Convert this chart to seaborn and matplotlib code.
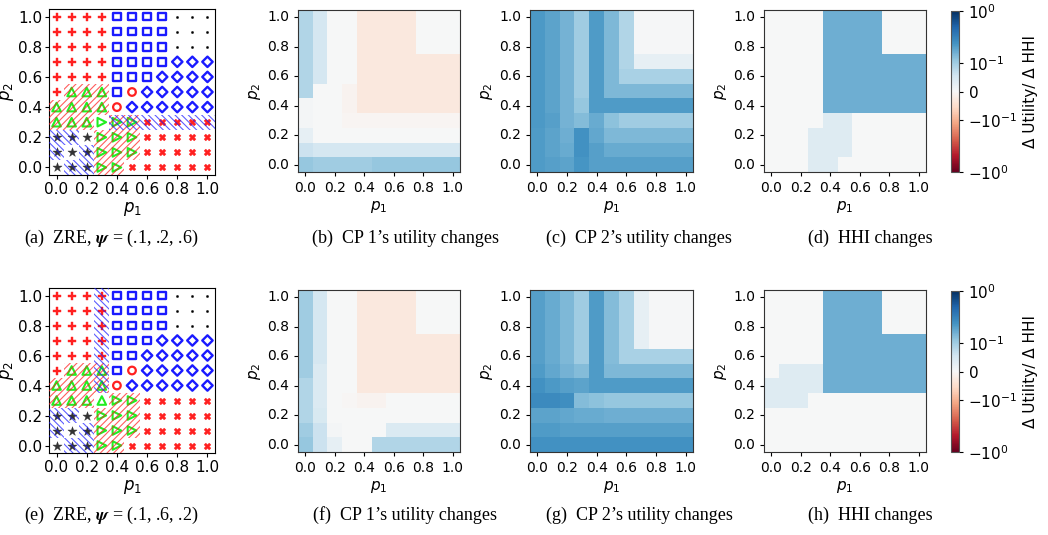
import numpy as np
import matplotlib
matplotlib.use("Agg")
import matplotlib.pyplot as plt
from matplotlib.colors import SymLogNorm
from matplotlib.cm import ScalarMappable
import seaborn as sns

# ---------------------------------------------------------------- data
P_GRID = [0.0, 0.1, 0.2, 0.3, 0.4, 0.5, 0.6, 0.7, 0.8, 0.9, 1.0]
TICK_LABELS = ["0.0", "0.2", "0.4", "0.6", "0.8", "1.0"]

# Equilibrium type at every (p1, p2); rows run from p2 = 1.0 down to p2 = 0.0
ZRE_A = [
    "PPPPssss...",
    "PPPPssss...",
    "PPPPssss...",
    "PPPPssssDDD",
    "PPPPsssDDDD",
    "P^^^soDDDDD",
    "^^^^oDDDDDD",
    "^^^>>>XXXXX",
    "***>>>XXXXX",
    "***>>>XXXXX",
    "***>>XXXXXX",
]
ZRE_E = [
    "PPPPssss...",
    "PPPPssss...",
    "PPPPssss...",
    "PPPPsssDDDD",
    "PPPPssDDDDD",
    "P^^^soDDDDD",
    "^^^^oDDDDDD",
    "^^^^>>XXXXX",
    "***>>>XXXXX",
    "***>>>XXXXX",
    "***>>XXXXXX",
]
# Multiplicity flags: r = red hatch, b = blue hatch, m = both
MULTI_A = [
    "...........",
    "...........",
    "...........",
    "...........",
    "...........",
    ".rrr.......",
    "rrrr.......",
    "rrr.mmbbbbb",
    "bb.rrr.....",
    "b.brrr.....",
    ".bbrr......",
]
MULTI_E = [
    "...b.......",
    "...b.......",
    "...b.......",
    "...b.......",
    "...b.......",
    ".rrm.......",
    "rrrm.......",
    "rrr.rr.....",
    "bb.rrr.....",
    "b.brrr.....",
    ".bbrr......",
]

# Utility / HHI changes, rows from p2 = 1.0 down to p2 = 0.0, columns p1 = 0.0 .. 1.0
CP1_A = [
    [0.085, 0.05, 0.0, 0.0, -0.03, -0.03, -0.03, -0.03, 0.0, 0.0, 0.0],
    [0.085, 0.05, 0.0, 0.0, -0.03, -0.03, -0.03, -0.03, 0.0, 0.0, 0.0],
    [0.085, 0.05, 0.0, 0.0, -0.03, -0.03, -0.03, -0.03, 0.0, 0.0, 0.0],
    [0.085, 0.05, 0.0, 0.0, -0.03, -0.03, -0.03, -0.03, -0.03, -0.03, -0.03],
    [0.085, 0.05, 0.0, 0.0, -0.03, -0.03, -0.03, -0.03, -0.03, -0.03, -0.03],
    [0.085, 0.0, 0.0, -0.01, -0.03, -0.03, -0.03, -0.03, -0.03, -0.03, -0.03],
    [0.005, 0.0, 0.0, -0.01, -0.03, -0.03, -0.03, -0.03, -0.03, -0.03, -0.03],
    [0.005, 0.0, 0.0, -0.005, -0.005, -0.005, -0.005, -0.005, -0.005, -0.005, -0.005],
    [0.025, 0.0, 0.0, 0.0, 0.0, 0.0, 0.0, 0.0, 0.0, 0.0, 0.0],
    [0.06, 0.05, 0.05, 0.05, 0.05, 0.05, 0.05, 0.05, 0.05, 0.05, 0.05],
    [0.11, 0.1, 0.1, 0.1, 0.1, 0.11, 0.11, 0.11, 0.11, 0.11, 0.11],
]
CP2_A = [
    [0.22, 0.19, 0.15, 0.1, 0.21, 0.14, 0.085, 0.003, 0.003, 0.003, 0.003],
    [0.22, 0.19, 0.15, 0.1, 0.21, 0.14, 0.085, 0.003, 0.003, 0.003, 0.003],
    [0.22, 0.19, 0.15, 0.1, 0.21, 0.14, 0.085, 0.003, 0.003, 0.003, 0.003],
    [0.22, 0.19, 0.15, 0.1, 0.21, 0.14, 0.085, 0.025, 0.025, 0.025, 0.025],
    [0.22, 0.19, 0.15, 0.1, 0.21, 0.14, 0.09, 0.09, 0.09, 0.09, 0.09],
    [0.22, 0.19, 0.15, 0.1, 0.21, 0.14, 0.14, 0.14, 0.14, 0.14, 0.14],
    [0.22, 0.19, 0.15, 0.11, 0.21, 0.21, 0.21, 0.21, 0.21, 0.21, 0.21],
    [0.22, 0.2, 0.15, 0.13, 0.17, 0.12, 0.1, 0.1, 0.1, 0.1, 0.1],
    [0.21, 0.19, 0.16, 0.24, 0.18, 0.14, 0.14, 0.14, 0.14, 0.14, 0.14],
    [0.21, 0.19, 0.17, 0.24, 0.2, 0.17, 0.17, 0.17, 0.17, 0.17, 0.17],
    [0.21, 0.2, 0.19, 0.23, 0.2, 0.2, 0.2, 0.2, 0.2, 0.2, 0.2],
]
HHI_A = [
    [0.0, 0.0, 0.0, 0.0, 0.16, 0.16, 0.16, 0.16, 0.0, 0.0, 0.0],
    [0.0, 0.0, 0.0, 0.0, 0.16, 0.16, 0.16, 0.16, 0.0, 0.0, 0.0],
    [0.0, 0.0, 0.0, 0.0, 0.16, 0.16, 0.16, 0.16, 0.0, 0.0, 0.0],
    [0.0, 0.0, 0.0, 0.0, 0.16, 0.16, 0.16, 0.16, 0.16, 0.16, 0.16],
    [0.0, 0.0, 0.0, 0.0, 0.16, 0.16, 0.16, 0.16, 0.16, 0.16, 0.16],
    [0.0, 0.0, 0.0, 0.0, 0.16, 0.16, 0.16, 0.16, 0.16, 0.16, 0.16],
    [0.0, 0.0, 0.0, 0.0, 0.16, 0.16, 0.16, 0.16, 0.16, 0.16, 0.16],
    [0.0, 0.0, 0.0, 0.0, 0.035, 0.035, 0.0, 0.0, 0.0, 0.0, 0.0],
    [0.0, 0.0, 0.0, 0.035, 0.035, 0.035, 0.0, 0.0, 0.0, 0.0, 0.0],
    [0.0, 0.0, 0.0, 0.035, 0.035, 0.035, 0.0, 0.0, 0.0, 0.0, 0.0],
    [0.0, 0.0, 0.0, 0.035, 0.035, 0.0, 0.0, 0.0, 0.0, 0.0, 0.0],
]
CP1_E = [
    [0.1, 0.05, 0.0, 0.0, -0.03, -0.03, -0.03, -0.03, 0.0, 0.0, 0.0],
    [0.1, 0.05, 0.0, 0.0, -0.03, -0.03, -0.03, -0.03, 0.0, 0.0, 0.0],
    [0.1, 0.05, 0.0, 0.0, -0.03, -0.03, -0.03, -0.03, 0.0, 0.0, 0.0],
    [0.1, 0.05, 0.0, 0.0, -0.03, -0.03, -0.03, -0.03, -0.03, -0.03, -0.03],
    [0.1, 0.05, 0.0, 0.0, -0.03, -0.03, -0.03, -0.03, -0.03, -0.03, -0.03],
    [0.1, 0.04, 0.0, 0.0, -0.03, -0.03, -0.03, -0.03, -0.03, -0.03, -0.03],
    [0.085, 0.04, 0.0, 0.0, -0.03, -0.03, -0.03, -0.03, -0.03, -0.03, -0.03],
    [0.085, 0.04, 0.0, -0.003, -0.01, -0.01, 0.0, 0.0, 0.0, 0.0, 0.0],
    [0.085, 0.045, 0.0, 0.0, 0.0, 0.0, 0.0, 0.0, 0.0, 0.0, 0.0],
    [0.1, 0.06, 0.005, 0.0, 0.0, 0.0, 0.04, 0.04, 0.04, 0.04, 0.04],
    [0.11, 0.06, 0.025, 0.0, 0.0, 0.085, 0.085, 0.085, 0.085, 0.085, 0.085],
]
CP2_E = [
    [0.2, 0.17, 0.14, 0.1, 0.21, 0.13, 0.09, 0.025, 0.003, 0.003, 0.003],
    [0.2, 0.17, 0.14, 0.1, 0.21, 0.13, 0.09, 0.025, 0.003, 0.003, 0.003],
    [0.2, 0.17, 0.14, 0.1, 0.21, 0.13, 0.09, 0.025, 0.003, 0.003, 0.003],
    [0.2, 0.17, 0.14, 0.1, 0.21, 0.13, 0.09, 0.025, 0.003, 0.003, 0.003],
    [0.2, 0.17, 0.14, 0.1, 0.21, 0.13, 0.09, 0.09, 0.09, 0.09, 0.09],
    [0.21, 0.18, 0.15, 0.13, 0.21, 0.14, 0.14, 0.14, 0.14, 0.14, 0.14],
    [0.24, 0.22, 0.2, 0.19, 0.21, 0.21, 0.21, 0.21, 0.21, 0.21, 0.21],
    [0.27, 0.27, 0.26, 0.13, 0.12, 0.11, 0.11, 0.11, 0.11, 0.11, 0.11],
    [0.19, 0.19, 0.18, 0.17, 0.17, 0.16, 0.16, 0.16, 0.16, 0.16, 0.16],
    [0.21, 0.21, 0.2, 0.2, 0.2, 0.2, 0.2, 0.2, 0.2, 0.2, 0.2],
    [0.24, 0.24, 0.24, 0.24, 0.24, 0.24, 0.24, 0.24, 0.24, 0.24, 0.24],
]
HHI_E = [
    [0.0, 0.0, 0.0, 0.0, 0.16, 0.16, 0.16, 0.16, 0.0, 0.0, 0.0],
    [0.0, 0.0, 0.0, 0.0, 0.16, 0.16, 0.16, 0.16, 0.0, 0.0, 0.0],
    [0.0, 0.0, 0.0, 0.0, 0.16, 0.16, 0.16, 0.16, 0.0, 0.0, 0.0],
    [0.0, 0.0, 0.0, 0.0, 0.16, 0.16, 0.16, 0.16, 0.16, 0.16, 0.16],
    [0.0, 0.0, 0.0, 0.0, 0.16, 0.16, 0.16, 0.16, 0.16, 0.16, 0.16],
    [0.0, 0.035, 0.035, 0.035, 0.16, 0.16, 0.16, 0.16, 0.16, 0.16, 0.16],
    [0.035, 0.035, 0.035, 0.035, 0.16, 0.16, 0.16, 0.16, 0.16, 0.16, 0.16],
    [0.035, 0.035, 0.035, 0.0, 0.0, 0.0, 0.0, 0.0, 0.0, 0.0, 0.0],
    [0.0, 0.0, 0.0, 0.0, 0.0, 0.0, 0.0, 0.0, 0.0, 0.0, 0.0],
    [0.0, 0.0, 0.0, 0.0, 0.0, 0.0, 0.0, 0.0, 0.0, 0.0, 0.0],
    [0.0, 0.0, 0.0, 0.0, 0.0, 0.0, 0.0, 0.0, 0.0, 0.0, 0.0],
]

CAPTIONS_TOP = [r"(a)  ZRE, $\boldsymbol{\psi}$ = (.1, .2, .6)",
                "(b)  CP 1\u2019s utility changes",
                "(c)  CP 2\u2019s utility changes",
                "(d)  HHI changes"]
CAPTIONS_BOTTOM = [r"(e)  ZRE, $\boldsymbol{\psi}$ = (.1, .6, .2)",
                   "(f)  CP 1\u2019s utility changes",
                   "(g)  CP 2\u2019s utility changes",
                   "(h)  HHI changes"]
CBAR_LABEL = "\u0394 Utility/ \u0394 HHI"

# ---------------------------------------------------------------- styles
MARKER_STYLE = {
    "P": dict(marker="P", facecolors="#ff2020", edgecolors="#ff2020", s=28, linewidth=0.3),
    "s": dict(marker="s", facecolors="none", edgecolors="#1a1aff", s=30, linewidth=1.7),
    ".": dict(marker=".", facecolors="black", edgecolors="black", s=10, linewidth=0.3),
    "D": dict(marker="D", facecolors="none", edgecolors="#1a1aff", s=28, linewidth=1.7),
    "o": dict(marker="o", facecolors="none", edgecolors="#ff2020", s=30, linewidth=1.6),
    "^": dict(marker="^", facecolors="none", edgecolors="#22ee22", s=38, linewidth=1.5),
    ">": dict(marker=">", facecolors="none", edgecolors="#22ee22", s=38, linewidth=1.5),
    "X": dict(marker="X", facecolors="#ff2020", edgecolors="#ff2020", s=24, linewidth=0.3),
    "*": dict(marker="*", facecolors="#333333", edgecolors="#333333", s=48, linewidth=0.3),
}
HATCH_STYLE = {"r": ("/////", (1.0, 0.1, 0.1, 0.7)),
               "b": ("\\\\\\\\\\", (0.1, 0.1, 1.0, 0.7))}

CMAP = "RdBu"
NORM = SymLogNorm(linthresh=0.1, linscale=0.5, vmin=-1.0, vmax=1.0, base=10)

plt.rcParams["hatch.linewidth"] = 0.8
W, H = 1048, 535
fig = plt.figure(figsize=(W / 100, H / 100), dpi=100)


def px_axes(x0, y0, x1, y1):
    return fig.add_axes([x0 / W, 1 - y1 / H, (x1 - x0) / W, (y1 - y0) / H])


def draw_zre(ax, states, multi):
    p = np.array(P_GRID)
    rows = len(states)
    for key, style in MARKER_STYLE.items():
        xs, ys = [], []
        for r, line in enumerate(states):
            for c, ch in enumerate(line):
                if ch == key:
                    xs.append(p[c])
                    ys.append(p[rows - 1 - r])
        if xs:
            sns.scatterplot(x=xs, y=ys, ax=ax, zorder=2, legend=False, **style)
    for flag, (hatch, color) in HATCH_STYLE.items():
        xs, ys = [], []
        for r, line in enumerate(multi):
            for c, ch in enumerate(line):
                if ch == flag or ch == "m":
                    xs.append(p[c])
                    ys.append(p[rows - 1 - r])
        if xs:
            ax.bar(xs, 0.1, width=0.1, bottom=np.array(ys) - 0.05, fill=False,
                   hatch=hatch, edgecolor=color, linewidth=0, zorder=3)
    ax.set_xlim(-0.05, 1.05)
    ax.set_ylim(-0.05, 1.05)
    ticks = np.arange(0, 11, 2) / 10
    ax.set_xticks(ticks, TICK_LABELS)
    ax.set_yticks(ticks, TICK_LABELS)
    ax.tick_params(labelsize=11, length=3, pad=2)
    ax.set_xlabel("$p_1$", fontsize=12, labelpad=2)
    ax.set_ylabel("$p_2$", fontsize=12, labelpad=1)


def draw_heat(ax, grid):
    sns.heatmap(np.array(grid), ax=ax, cmap=CMAP, norm=NORM, cbar=False)
    pos = np.arange(0, 11, 2) + 0.5
    ax.set_xticks(pos, TICK_LABELS, rotation=0)
    ax.set_yticks(pos, TICK_LABELS[::-1], rotation=0)
    for sp in ax.spines.values():
        sp.set_visible(True)
        sp.set_color("#333333")
        sp.set_linewidth(0.8)
    ax.tick_params(labelsize=10, length=3)
    ax.set_xlabel("$p_1$", fontsize=11, labelpad=3)
    ax.set_ylabel("$p_2$", fontsize=11, labelpad=3)


def draw_cbar(y0, y1):
    cax = px_axes(951, y0, 959, y1)
    cb = fig.colorbar(ScalarMappable(norm=NORM, cmap=CMAP), cax=cax)
    cb.outline.set_edgecolor("#555555")
    cb.ax.tick_params(labelsize=11, length=3)
    cb.set_label(CBAR_LABEL, fontsize=11, labelpad=4)


ROWS = [
    dict(zre=(ZRE_A, MULTI_A), cp1=CP1_A, cp2=CP2_A, hhi=HHI_A,
         scatter_y=(9, 175), heat_y=(10, 172), cap_y=238, caps=CAPTIONS_TOP),
    dict(zre=(ZRE_E, MULTI_E), cp1=CP1_E, cp2=CP2_E, hhi=HHI_E,
         scatter_y=(288, 453), heat_y=(290, 452), cap_y=515, caps=CAPTIONS_BOTTOM),
]
CAP_X = [111, 405, 639, 870]

for row in ROWS:
    ax = px_axes(49, row["scatter_y"][0], 215, row["scatter_y"][1])
    draw_zre(ax, *row["zre"])
    y0, y1 = row["heat_y"]
    draw_heat(px_axes(298, y0, 460, y1), row["cp1"])
    draw_heat(px_axes(530, y0, 693, y1), row["cp2"])
    draw_heat(px_axes(764, y0, 926, y1), row["hhi"])
    draw_cbar(y0 + 1, y1)
    for cx, text in zip(CAP_X, row["caps"]):
        fig.text(cx / W, 1 - row["cap_y"] / H, text, ha="center", va="center",
                 fontsize=13, family="Liberation Serif", math_fontfamily="stix")

fig.savefig("out.png", dpi=100)
